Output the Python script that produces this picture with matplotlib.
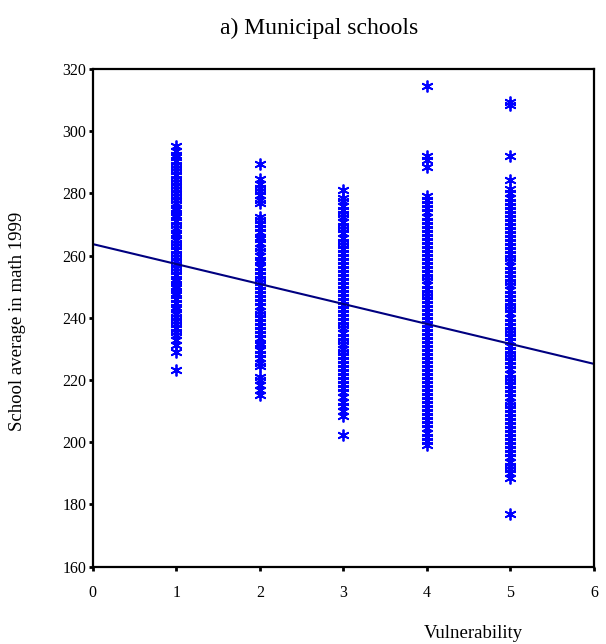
import matplotlib
matplotlib.use("Agg")
import matplotlib.pyplot as plt

# vulnerability groups (x) and school math averages (y)
cat1 = [223.2, 228.9, 231.4, 233.0, 234.6, 235.5, 236.8, 238.1, 239.0, 240.4, 241.2, 242.7,
        243.5, 244.9, 246.0, 247.2, 248.1, 249.5, 250.3, 251.8, 252.6, 253.9, 255.1, 256.0,
        257.4, 258.2, 259.7, 260.5, 261.9, 263.0, 264.2, 265.1, 266.6, 267.4, 268.8, 269.7,
        271.0, 272.3, 273.1, 274.6, 275.4, 276.9, 277.8, 279.0, 280.2, 281.5, 282.3, 283.8,
        284.6, 286.0, 287.1, 288.3, 289.2, 290.5, 291.6, 292.4, 293.7, 295.1]
cat2 = [215.3, 216.8, 218.5, 219.9, 221.0, 224.4, 225.6, 227.1, 228.3, 229.8, 231.2, 232.0,
        233.5, 234.9, 236.1, 237.4, 238.6, 240.0, 241.3, 242.2, 243.8, 245.0, 246.5, 247.7,
        248.9, 250.2, 251.6, 252.4, 253.9, 255.1, 256.3, 257.8, 258.6, 260.0, 261.4, 262.5,
        263.9, 265.2, 266.0, 267.6, 268.8, 270.1, 271.3, 272.5, 276.9, 278.0, 279.4, 280.6,
        281.8, 283.0, 284.5, 289.3]
cat3 = [202.2, 208.6, 210.1, 211.8, 213.0, 214.5, 216.2, 217.4, 218.6, 219.9, 221.3, 222.5,
        223.8, 225.0, 226.4, 227.6, 228.9, 230.1, 231.5, 232.7, 233.9, 235.2, 236.6, 237.8,
        239.0, 240.3, 241.7, 242.9, 244.1, 245.4, 246.8, 248.0, 249.2, 250.5, 251.9, 253.1,
        254.3, 255.6, 257.0, 258.2, 259.4, 260.7, 262.1, 263.3, 264.5, 265.8, 267.2, 268.4,
        269.6, 270.9, 272.3, 273.5, 274.7, 276.0, 277.4, 278.6, 281.2]
cat4 = [199.2, 200.5, 201.8, 203.1, 204.6, 205.9, 207.0, 208.4, 209.7, 211.1, 212.3, 213.6,
        215.0, 216.2, 217.5, 218.8, 220.1, 221.4, 222.6, 223.9, 225.2, 226.5, 227.7, 229.0,
        230.3, 231.6, 232.8, 234.1, 235.4, 236.7, 237.9, 239.2, 240.5, 241.8, 243.0, 244.3,
        245.6, 246.9, 248.1, 249.4, 250.7, 252.0, 253.2, 254.5, 255.8, 257.1, 258.3, 259.6,
        260.9, 262.2, 263.4, 264.7, 266.0, 267.3, 268.5, 269.8, 271.1, 272.4, 273.9, 275.2,
        276.6, 277.8, 279.3, 288.4, 290.6, 292.1, 314.6]
cat5 = [176.8, 188.6, 190.0, 191.3, 192.5, 193.8, 195.2, 196.4, 197.7, 199.0, 200.3, 201.6,
        202.9, 204.2, 205.4, 206.7, 208.0, 209.3, 210.6, 211.9, 213.1, 214.4, 215.7, 217.0,
        218.3, 219.6, 220.8, 222.1, 223.4, 224.7, 226.0, 227.3, 228.5, 229.8, 231.1, 232.4,
        233.7, 235.0, 236.2, 237.5, 238.8, 240.1, 241.4, 242.7, 243.9, 245.2, 246.5, 247.8,
        249.1, 250.4, 251.6, 252.9, 254.2, 255.5, 256.8, 258.1, 259.3, 260.6, 261.9, 263.2,
        264.5, 265.8, 267.0, 268.3, 269.6, 270.9, 272.2, 273.5, 274.7, 276.0, 277.3, 278.6,
        280.0, 281.3, 284.4, 292.0, 308.3, 309.4]
groups = [cat1, cat2, cat3, cat4, cat5]

# fitted regression line endpoints
fit_x = [0, 6]
fit_y = [263.7, 225.2]

plt.rcParams['font.family'] = ['Liberation Serif', 'DejaVu Serif']

fig = plt.figure(figsize=(6.06, 6.44), dpi=100)
ax = fig.add_axes([0.153, 0.12, 0.827, 0.773])

for i, ys in enumerate(groups):
    ax.plot([i + 1] * len(ys), ys, linestyle='none', marker=(6, 2, 0),
            markersize=8.5, markeredgewidth=1.3, color='#0000ff')

ax.plot(fit_x, fit_y, color='#000080', linewidth=1.5)

ax.set_xlim(0, 6)
ax.set_ylim(160, 320)
ax.set_xticks(range(0, 7))
ax.set_yticks(range(160, 321, 20))
ax.tick_params(axis='both', direction='out', length=3, width=2, labelsize=11.5)
ax.tick_params(axis='x', pad=10)
ax.tick_params(axis='y', pad=1.5)
for sp in ax.spines.values():
    sp.set_linewidth(1.6)

fig.text(319 / 606, 1 - 28 / 644, 'a) Municipal schools', ha='center', va='center', fontsize=17)
fig.text(18 / 606, 1 - 321 / 644, 'School average in math 1999', rotation=90,
         ha='center', va='center', fontsize=13.5)
fig.text(473 / 606, 1 - 634 / 644, 'Vulnerability', ha='center', va='center', fontsize=13.5)

fig.savefig('out.png', dpi=100)
